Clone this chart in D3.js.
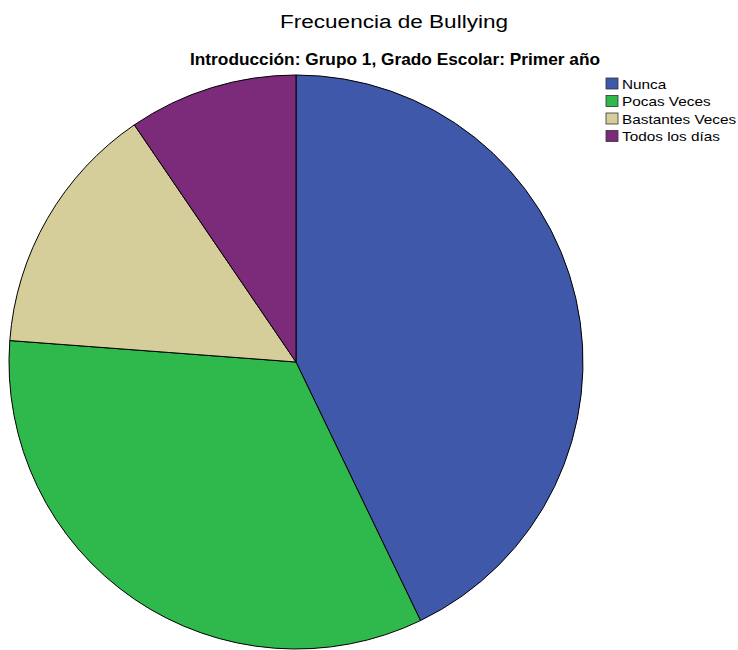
<!DOCTYPE html>
<html>
<head>
<meta charset="utf-8">
<script src="https://cdn.jsdelivr.net/npm/d3@7"></script>
<style>
  html, body { margin: 0; padding: 0; background: #fff; }
  svg { display: block; }
</style>
</head>
<body>
<svg id="chart" width="738" height="650"></svg>
<script>
// Frequency counts per response category
const categories = ["Nunca", "Pocas Veces", "Bastantes Veces", "Todos los días"];
const counts = [9, 7, 3, 2];
const colors = ["#3f58aa", "#2fb84b", "#d5cd9a", "#7c2a7a"];

const title = "Frecuencia de Bullying";
const subtitle = "Introducción: Grupo 1, Grado Escolar: Primer año";

const svg = d3.select("#chart");

svg.append("text")
  .attr("x", 394).attr("y", 28)
  .attr("text-anchor", "middle")
  .attr("font-family", "Liberation Sans, Arial, sans-serif")
  .attr("font-size", 18)
  .attr("textLength", 228)
  .attr("lengthAdjust", "spacingAndGlyphs")
  .attr("fill", "#000")
  .text(title);

svg.append("text")
  .attr("x", 395).attr("y", 65)
  .attr("text-anchor", "middle")
  .attr("font-family", "Liberation Sans Narrow, Arial Narrow, Liberation Sans, sans-serif")
  .attr("font-weight", "bold")
  .attr("font-size", 16.5)
  .attr("textLength", 410)
  .attr("lengthAdjust", "spacingAndGlyphs")
  .attr("fill", "#000")
  .text(subtitle);

const cx = 296, cy = 362, r = 287;

const data = categories.map((c, i) => ({ cat: c, value: counts[i], color: colors[i] }));

const pie = d3.pie().value(d => d.value).sort(null);
const arc = d3.arc().innerRadius(0).outerRadius(r);

svg.append("g")
  .attr("transform", `translate(${cx},${cy})`)
  .selectAll("path")
  .data(pie(data))
  .join("path")
  .attr("d", arc)
  .attr("fill", d => d.data.color)
  .attr("stroke", "#000")
  .attr("stroke-width", 1)
  .attr("stroke-linejoin", "round");

// Legend
const legend = svg.append("g").attr("transform", "translate(606,78)");
const item = legend.selectAll("g")
  .data(data)
  .join("g")
  .attr("transform", (d, i) => `translate(0,${i * 17.5})`);

item.append("rect")
  .attr("x", 0).attr("y", 0)
  .attr("width", 12).attr("height", 11)
  .attr("fill", d => d.color)
  .attr("stroke", "#333")
  .attr("stroke-width", 0.8);

item.append("text")
  .attr("transform", "translate(16,10.5) scale(1.18,1)")
  .attr("font-family", "Liberation Sans, Arial, sans-serif")
  .attr("font-size", 13)
  .attr("fill", "#000")
  .text(d => d.cat);
</script>
</body>
</html>
